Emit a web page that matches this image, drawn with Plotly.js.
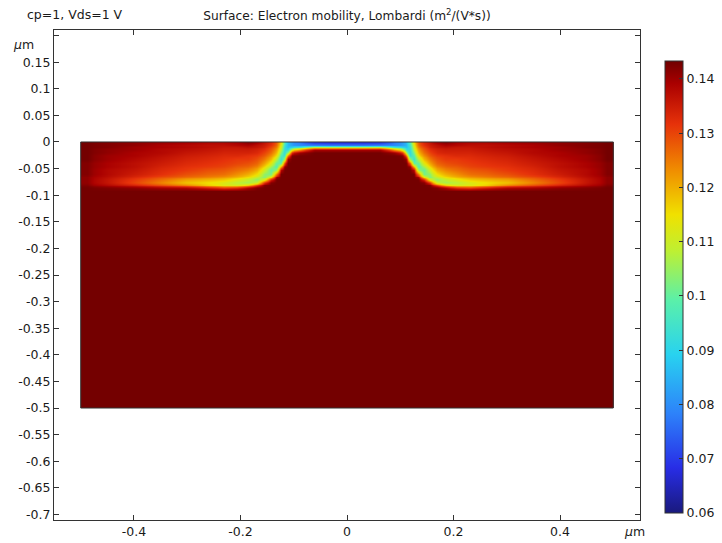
<!DOCTYPE html>
<html>
<head>
<meta charset="utf-8">
<script src="https://cdn.plot.ly/plotly-3.0.1.min.js"></script>
<style>
html,body{margin:0;padding:0;background:#fff;}
#chart{width:722px;height:543px;}
</style>
</head>
<body>
<div id="chart"></div>
<script>
// sample x positions (um), cell centres
var xSamples = [-0.5,-0.45,-0.4,-0.35,-0.3,-0.26,-0.23,-0.205,-0.185,-0.168,-0.155,-0.143,-0.133,-0.125,-0.118,-0.111,-0.104,-0.095,-0.06,-0.03,0,0.03,0.06,0.095,0.104,0.111,0.118,0.125,0.133,0.143,0.155,0.168,0.185,0.205,0.23,0.26,0.3,0.35,0.4,0.45,0.5];
// sample y positions (um), top to bottom
var ySamples = [-0.002,-0.006,-0.010,-0.014,-0.019,-0.025,-0.032,-0.039,-0.046,-0.053,-0.060,-0.066,-0.071,-0.076,-0.081,-0.086,-0.092,-0.100,-0.130,-0.490];
// electron mobility (m^2/(V*s)); one column per x sample, values top to bottom
var mobilityColumns = [
[0.143,0.143,0.143,0.143,0.143,0.143,0.143,0.142,0.142,0.142,0.142,0.141,0.141,0.141,0.142,0.143,0.143,0.143,0.143,0.143],
[0.142,0.142,0.142,0.141,0.141,0.140,0.140,0.139,0.139,0.138,0.138,0.137,0.136,0.136,0.138,0.142,0.143,0.143,0.143,0.143],
[0.141,0.141,0.140,0.140,0.139,0.139,0.138,0.137,0.137,0.136,0.135,0.133,0.131,0.130,0.134,0.141,0.143,0.143,0.143,0.143],
[0.140,0.139,0.139,0.138,0.138,0.137,0.136,0.135,0.134,0.133,0.132,0.129,0.126,0.124,0.129,0.139,0.143,0.143,0.143,0.143],
[0.139,0.138,0.138,0.137,0.136,0.135,0.134,0.133,0.132,0.131,0.129,0.126,0.121,0.118,0.124,0.138,0.143,0.143,0.143,0.143],
[0.138,0.137,0.137,0.136,0.135,0.134,0.133,0.132,0.131,0.129,0.127,0.124,0.119,0.115,0.117,0.134,0.143,0.143,0.143,0.143],
[0.138,0.137,0.136,0.135,0.134,0.133,0.132,0.131,0.130,0.128,0.126,0.122,0.117,0.112,0.113,0.130,0.143,0.143,0.143,0.143],
[0.139,0.138,0.136,0.135,0.134,0.133,0.131,0.130,0.128,0.126,0.123,0.119,0.113,0.108,0.112,0.132,0.143,0.143,0.143,0.143],
[0.141,0.139,0.137,0.135,0.134,0.132,0.131,0.129,0.127,0.124,0.120,0.115,0.109,0.106,0.117,0.138,0.143,0.143,0.143,0.143],
[0.139,0.137,0.136,0.134,0.133,0.131,0.129,0.127,0.124,0.120,0.115,0.109,0.104,0.110,0.130,0.142,0.143,0.143,0.143,0.143],
[0.136,0.135,0.134,0.132,0.130,0.128,0.125,0.121,0.116,0.110,0.104,0.103,0.112,0.132,0.142,0.143,0.143,0.143,0.143,0.143],
[0.133,0.132,0.130,0.128,0.126,0.123,0.119,0.113,0.106,0.100,0.102,0.115,0.134,0.142,0.143,0.143,0.143,0.143,0.143,0.143],
[0.128,0.127,0.125,0.122,0.119,0.115,0.108,0.100,0.097,0.105,0.125,0.140,0.143,0.143,0.143,0.143,0.143,0.143,0.143,0.143],
[0.115,0.113,0.111,0.108,0.103,0.098,0.094,0.100,0.120,0.138,0.143,0.143,0.143,0.143,0.143,0.143,0.143,0.143,0.143,0.143],
[0.097,0.095,0.093,0.092,0.091,0.093,0.105,0.128,0.141,0.143,0.143,0.143,0.143,0.143,0.143,0.143,0.143,0.143,0.143,0.143],
[0.086,0.086,0.087,0.092,0.105,0.125,0.140,0.143,0.143,0.143,0.143,0.143,0.143,0.143,0.143,0.143,0.143,0.143,0.143,0.143],
[0.082,0.083,0.090,0.110,0.132,0.142,0.143,0.143,0.143,0.143,0.143,0.143,0.143,0.143,0.143,0.143,0.143,0.143,0.143,0.143],
[0.078,0.080,0.095,0.122,0.140,0.143,0.143,0.143,0.143,0.143,0.143,0.143,0.143,0.143,0.143,0.143,0.143,0.143,0.143,0.143],
[0.071,0.078,0.108,0.139,0.143,0.143,0.143,0.143,0.143,0.143,0.143,0.143,0.143,0.143,0.143,0.143,0.143,0.143,0.143,0.143],
[0.070,0.077,0.107,0.139,0.143,0.143,0.143,0.143,0.143,0.143,0.143,0.143,0.143,0.143,0.143,0.143,0.143,0.143,0.143,0.143],
[0.070,0.077,0.107,0.139,0.143,0.143,0.143,0.143,0.143,0.143,0.143,0.143,0.143,0.143,0.143,0.143,0.143,0.143,0.143,0.143],
[0.070,0.077,0.107,0.139,0.143,0.143,0.143,0.143,0.143,0.143,0.143,0.143,0.143,0.143,0.143,0.143,0.143,0.143,0.143,0.143],
[0.071,0.078,0.108,0.139,0.143,0.143,0.143,0.143,0.143,0.143,0.143,0.143,0.143,0.143,0.143,0.143,0.143,0.143,0.143,0.143],
[0.078,0.080,0.095,0.122,0.140,0.143,0.143,0.143,0.143,0.143,0.143,0.143,0.143,0.143,0.143,0.143,0.143,0.143,0.143,0.143],
[0.082,0.083,0.090,0.110,0.132,0.142,0.143,0.143,0.143,0.143,0.143,0.143,0.143,0.143,0.143,0.143,0.143,0.143,0.143,0.143],
[0.086,0.086,0.087,0.092,0.105,0.125,0.140,0.143,0.143,0.143,0.143,0.143,0.143,0.143,0.143,0.143,0.143,0.143,0.143,0.143],
[0.097,0.095,0.093,0.092,0.091,0.093,0.105,0.128,0.141,0.143,0.143,0.143,0.143,0.143,0.143,0.143,0.143,0.143,0.143,0.143],
[0.115,0.113,0.111,0.108,0.103,0.098,0.094,0.100,0.120,0.138,0.143,0.143,0.143,0.143,0.143,0.143,0.143,0.143,0.143,0.143],
[0.128,0.127,0.125,0.122,0.119,0.115,0.108,0.100,0.097,0.105,0.125,0.140,0.143,0.143,0.143,0.143,0.143,0.143,0.143,0.143],
[0.133,0.132,0.130,0.128,0.126,0.123,0.119,0.113,0.106,0.100,0.102,0.115,0.134,0.142,0.143,0.143,0.143,0.143,0.143,0.143],
[0.136,0.135,0.134,0.132,0.130,0.128,0.125,0.121,0.116,0.110,0.104,0.103,0.112,0.132,0.142,0.143,0.143,0.143,0.143,0.143],
[0.139,0.137,0.136,0.134,0.133,0.131,0.129,0.127,0.124,0.120,0.115,0.109,0.104,0.110,0.130,0.142,0.143,0.143,0.143,0.143],
[0.141,0.139,0.137,0.135,0.134,0.132,0.131,0.129,0.127,0.124,0.120,0.115,0.109,0.106,0.117,0.138,0.143,0.143,0.143,0.143],
[0.139,0.138,0.136,0.135,0.134,0.133,0.131,0.130,0.128,0.126,0.123,0.119,0.113,0.108,0.112,0.132,0.143,0.143,0.143,0.143],
[0.138,0.137,0.136,0.135,0.134,0.133,0.132,0.131,0.130,0.128,0.126,0.122,0.117,0.112,0.113,0.130,0.143,0.143,0.143,0.143],
[0.138,0.137,0.137,0.136,0.135,0.134,0.133,0.132,0.131,0.129,0.127,0.124,0.119,0.115,0.117,0.134,0.143,0.143,0.143,0.143],
[0.139,0.138,0.138,0.137,0.136,0.135,0.134,0.133,0.132,0.131,0.129,0.126,0.121,0.118,0.124,0.138,0.143,0.143,0.143,0.143],
[0.140,0.139,0.139,0.138,0.138,0.137,0.136,0.135,0.134,0.133,0.132,0.129,0.126,0.124,0.129,0.139,0.143,0.143,0.143,0.143],
[0.141,0.141,0.140,0.140,0.139,0.139,0.138,0.137,0.137,0.136,0.135,0.133,0.131,0.130,0.134,0.141,0.143,0.143,0.143,0.143],
[0.142,0.142,0.142,0.141,0.141,0.140,0.140,0.139,0.139,0.138,0.138,0.137,0.136,0.136,0.138,0.142,0.143,0.143,0.143,0.143],
[0.143,0.143,0.143,0.143,0.143,0.143,0.143,0.142,0.142,0.142,0.142,0.141,0.141,0.141,0.142,0.143,0.143,0.143,0.143,0.143]
];
// domain extents (um)
var domainX = [-0.5, 0.5];
var domainY = [-0.5, 0];
// tick labels
var xTickVals = [-0.4,-0.2,0,0.2,0.4];
var xTickText = ['-0.4','-0.2','0','0.2','0.4'];
var yTickVals = [0.2,0.15,0.1,0.05,0,-0.05,-0.1,-0.15,-0.2,-0.25,-0.3,-0.35,-0.4,-0.45,-0.5,-0.55,-0.6,-0.65,-0.7];
var yTickText = [' ','0.15','0.1','0.05','0','-0.05','-0.1','-0.15','-0.2','-0.25','-0.3','-0.35','-0.4','-0.45','-0.5','-0.55','-0.6','-0.65','-0.7'];
var cbTickVals = [0.06,0.07,0.08,0.09,0.1,0.11,0.12,0.13,0.14];
var cbTickText = ['0.06','0.07','0.08','0.09','0.1','0.11','0.12','0.13','0.14'];
var colorRange = [0.06, 0.1433];
// colour table (rainbow)
var csStops = [0,0.1,0.22,0.35,0.47,0.58,0.66,0.76,0.86,0.95,1];
var csColors = ['rgb(25,25,125)','rgb(40,45,230)','rgb(45,130,250)','rgb(40,210,240)','rgb(90,240,170)','rgb(190,240,50)','rgb(240,225,0)','rgb(240,140,0)','rgb(230,50,10)','rgb(170,0,0)','rgb(112,0,0)'];

// build cell edges so the surface covers the domain exactly
function edgesFrom(c, lo, hi){
  var e=[lo];
  for(var i=1;i<c.length;i++) e.push((c[i-1]+c[i])/2);
  e.push(hi);
  return e;
}
var xEdges = edgesFrom(xSamples, domainX[0], domainX[1]);
var yDesc = edgesFrom(ySamples, domainY[1], domainY[0]);
var yEdges = yDesc.slice().reverse();
var z = [];
for (var j=ySamples.length-1;j>=0;j--){
  var row=[];
  for (var i=0;i<xSamples.length;i++) row.push(mobilityColumns[i][j]);
  z.push(row);
}
var colorscale = csStops.map(function(s,k){return [s, csColors[k]];});

var FONT = 'DejaVu Sans, sans-serif';
var AX = '#333';
var TXT = '#1a1a1a';
var trace = {
  type:'heatmap', x:xEdges, y:yEdges, z:z, zsmooth:'best',
  zmin:colorRange[0], zmax:colorRange[1], colorscale:colorscale,
  hoverinfo:'skip',
  colorbar:{
    thickness:18, thicknessmode:'pixels', len:452, lenmode:'pixels',
    x:(665-54)/586, xanchor:'left', xpad:0,
    y:(520-61)/490, yanchor:'top', ypad:0,
    outlinewidth:1, outlinecolor:AX,
    tickmode:'array', tickvals:cbTickVals, ticktext:cbTickText,
    ticks:'inside', ticklen:4, tickcolor:AX,
    tickfont:{family:FONT, size:12.5, color:TXT}
  }
};
var layout = {
  width:722, height:543,
  margin:{l:54, r:82, t:30, b:23, pad:0, autoexpand:false},
  paper_bgcolor:'#fff', plot_bgcolor:'#fff',
  font:{family:FONT, size:12.5, color:TXT},
  title:{text:'Surface: Electron mobility, Lombardi (m<sup>2</sup>/(V*s))', font:{family:FONT, size:12.2, color:TXT},
         xref:'paper', x:0.5, xanchor:'center', yref:'container', y:1-16/543, yanchor:'middle'},
  xaxis:{range:[-0.5502,0.5502], tickmode:'array', tickvals:xTickVals, ticktext:xTickText,
         ticks:'inside', ticklen:5, tickcolor:AX, showline:true, linecolor:AX, linewidth:1, mirror:'ticks',
         showgrid:false, zeroline:false, tickfont:{family:FONT,size:12.5,color:TXT}, automargin:false},
  yaxis:{range:[-0.7105,0.2105], tickmode:'array', tickvals:yTickVals, ticktext:yTickText,
         ticks:'inside', ticklen:5, tickcolor:AX, showline:true, linecolor:AX, linewidth:1, mirror:'ticks',
         showgrid:false, zeroline:false, tickfont:{family:FONT,size:12.5,color:TXT}, automargin:false},
  shapes:[{type:'rect', xref:'x', yref:'y', x0:domainX[0], x1:domainX[1], y0:domainY[0], y1:domainY[1],
           line:{color:'#333', width:1}, fillcolor:'rgba(0,0,0,0)'}],
  annotations:[
    {text:'cp=1, Vds=1 V', xref:'paper', yref:'paper', x:(25-54)/586, xanchor:'left', y:1+(30-14)/490, yanchor:'middle',
     showarrow:false, font:{family:FONT,size:12.5,color:TXT}},
    {text:'<i>μ</i>m', xref:'paper', yref:'paper', x:(11-54)/586, xanchor:'left', y:1-(44-30)/490, yanchor:'middle',
     showarrow:false, font:{family:FONT,size:12.5,color:TXT}},
    {text:'<i>μ</i>m', xref:'paper', yref:'paper', x:(622-54)/586, xanchor:'left', y:-(531-520)/490, yanchor:'middle',
     showarrow:false, font:{family:FONT,size:12.5,color:TXT}}
  ]
};
Plotly.newPlot('chart',[trace],layout,{staticPlot:true, displayModeBar:false});
</script>
</body>
</html>
